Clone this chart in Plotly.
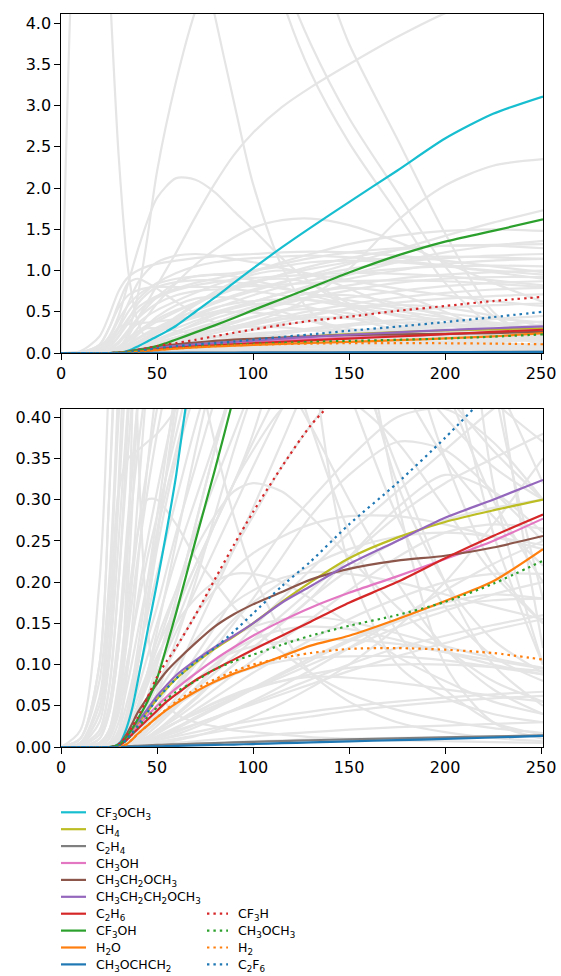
import plotly.graph_objects as go

# ---------------- highlighted species ----------------
HX = [0, 20, 25, 28, 31, 34, 37, 40, 45, 50, 55, 60, 70, 80, 90, 100, 115, 130, 150, 175, 200, 225, 251]

CF3OCH3 = [0, 0, 0, 0.001, 0.006, 0.022, 0.046, 0.08, 0.14, 0.199, 0.262, 0.33, 0.5, 0.67, 0.85, 1.025, 1.28, 1.52, 1.83, 2.21, 2.6, 2.9, 3.11]
CH4 = [0, 0, 0, 0.0005, 0.003, 0.01, 0.019, 0.028, 0.043, 0.058, 0.071, 0.083, 0.102, 0.119, 0.134, 0.15, 0.176, 0.2, 0.229, 0.254, 0.273, 0.287, 0.30]
C2H4 = [0, 0, 0, 0, 0.0003, 0.0008, 0.0012, 0.0015, 0.002, 0.0025, 0.003, 0.0033, 0.004, 0.0048, 0.0055, 0.0062, 0.0072, 0.0082, 0.0093, 0.0105, 0.0117, 0.0128, 0.014]
CH3OH = [0, 0, 0, 0.0003, 0.003, 0.009, 0.017, 0.025, 0.038, 0.05, 0.061, 0.071, 0.089, 0.106, 0.121, 0.135, 0.153, 0.169, 0.187, 0.207, 0.228, 0.25, 0.277]
CH3CH2OCH3 = [0, 0, 0, 0.0005, 0.005, 0.015, 0.028, 0.042, 0.06, 0.077, 0.092, 0.104, 0.126, 0.146, 0.161, 0.173, 0.188, 0.203, 0.216, 0.226, 0.232, 0.242, 0.256]
CH3CH2CH2OCH3 = [0, 0, 0, 0.0005, 0.004, 0.012, 0.022, 0.031, 0.046, 0.062, 0.075, 0.087, 0.105, 0.121, 0.135, 0.15, 0.175, 0.195, 0.222, 0.25, 0.278, 0.3, 0.324]
C2H6 = [0, 0, 0, 0.0003, 0.003, 0.008, 0.015, 0.022, 0.033, 0.044, 0.055, 0.064, 0.081, 0.094, 0.106, 0.118, 0.135, 0.152, 0.175, 0.2, 0.229, 0.256, 0.282]
CF3OH = [0, 0, 0, 0.001, 0.004, 0.012, 0.022, 0.034, 0.055, 0.083, 0.122, 0.163, 0.25, 0.335, 0.425, 0.52, 0.655, 0.79, 0.975, 1.18, 1.35, 1.48, 1.62]
H2O = [0, 0, 0, 0, 0.0005, 0.003, 0.009, 0.016, 0.026, 0.036, 0.045, 0.053, 0.067, 0.079, 0.089, 0.097, 0.11, 0.123, 0.135, 0.155, 0.177, 0.201, 0.24]
CH3OCHCH2 = [0, 0, 0, 0, 0, 0.0001, 0.0002, 0.0003, 0.0005, 0.0008, 0.001, 0.0013, 0.0019, 0.0025, 0.003, 0.0036, 0.0046, 0.0056, 0.0068, 0.0083, 0.0098, 0.0115, 0.0135]

CF3H = [0, 0, 0, 0.001, 0.005, 0.013, 0.024, 0.036, 0.06, 0.085, 0.104, 0.121, 0.16, 0.203, 0.245, 0.285, 0.34, 0.39, 0.44, 0.51, 0.57, 0.63, 0.68]
CH3OCH3 = [0, 0, 0, 0.0003, 0.003, 0.008, 0.016, 0.024, 0.036, 0.048, 0.058, 0.067, 0.08, 0.094, 0.104, 0.112, 0.124, 0.135, 0.147, 0.16, 0.176, 0.198, 0.226]
H2 = [0, 0, 0, 0, 0.0005, 0.003, 0.009, 0.016, 0.026, 0.036, 0.046, 0.055, 0.07, 0.082, 0.092, 0.1, 0.108, 0.114, 0.119, 0.12, 0.118, 0.114, 0.106]
C2F6 = [0, 0, 0, 0.0005, 0.003, 0.009, 0.017, 0.026, 0.042, 0.058, 0.071, 0.083, 0.103, 0.12, 0.14, 0.162, 0.195, 0.225, 0.27, 0.32, 0.375, 0.435, 0.50]

SOLID_NAMES = ["CF<sub>3</sub>OCH<sub>3</sub>", "CH<sub>4</sub>", "C<sub>2</sub>H<sub>4</sub>", "CH<sub>3</sub>OH",
               "CH<sub>3</sub>CH<sub>2</sub>OCH<sub>3</sub>", "CH<sub>3</sub>CH<sub>2</sub>CH<sub>2</sub>OCH<sub>3</sub>",
               "C<sub>2</sub>H<sub>6</sub>", "CF<sub>3</sub>OH", "H<sub>2</sub>O", "CH<sub>3</sub>OCHCH<sub>2</sub>"]
SOLID_VALUES = [CF3OCH3, CH4, C2H4, CH3OH, CH3CH2OCH3, CH3CH2CH2OCH3, C2H6, CF3OH, H2O, CH3OCHCH2]
SOLID_COLORS = ["#17becf", "#bcbd22", "#7f7f7f", "#e377c2", "#8c564b", "#9467bd", "#d62728", "#2ca02c", "#ff7f0e", "#1f77b4"]

DOT_NAMES = ["CF<sub>3</sub>H", "CH<sub>3</sub>OCH<sub>3</sub>", "H<sub>2</sub>", "C<sub>2</sub>F<sub>6</sub>"]
DOT_VALUES = [CF3H, CH3OCH3, H2, C2F6]
DOT_COLORS = ["#d62728", "#2ca02c", "#ff7f0e", "#1f77b4"]

# ---------------- background species (grey) ----------------
GX = [0, 10, 20, 25, 30, 35, 40, 45, 50, 60, 70, 80, 90, 100, 115, 130, 150, 175, 200, 225, 251]

GREY_LARGE = [
    [0, 7.0, 9.0, 9.5, 9.5, 9.2, 8.8, 8.2, 7.5, 6.3, 5.2, 4.1, 3.05, 2.05, 1.05, 0.5, 0.22, 0.1, 0.06, 0.04, 0.03],
    [14, 10, 6.8, 4.6, 2.4, 1.0, 0.38, 0.15, 0.07, 0.04, 0.03, 0.025, 0.02, 0.018, 0.015, 0.012, 0.01, 0.008, 0.007, 0.006, 0.005],
    [0, 0, 0, 0.01, 0.05, 0.25, 0.7, 1.4, 2.2, 3.3, 4.15, 4.75, 5.1, 5.35, 5.45, 4.95, 3.75, 2.6, 1.45, 0.5, 0.12],
    [9, 9, 9, 9, 9, 9, 9, 9, 9, 8.5, 8, 7.3, 6.5, 5.6, 4.3, 3.4, 2.55, 1.7, 0.85, 0.32, 0.1],
    [8, 8, 8, 8, 8, 8, 8, 8, 8, 7.8, 7.4, 6.9, 6.3, 5.7, 4.6, 3.75, 2.85, 1.95, 1.05, 0.45, 0.18],
    [0, 0, 0, 0.01, 0.05, 0.2, 0.42, 0.62, 0.82, 1.22, 1.65, 2.05, 2.4, 2.67, 2.98, 3.22, 3.5, 3.83, 4.12, 4.35, 4.5],
    [0, 0.01, 0.08, 0.2, 0.45, 0.85, 1.25, 1.6, 1.88, 2.12, 2.1, 1.95, 1.72, 1.5, 1.15, 0.85, 0.55, 0.32, 0.2, 0.13, 0.09],
    [0, 0, 0, 0.01, 0.05, 0.15, 0.3, 0.45, 0.6, 0.85, 1.07, 1.25, 1.4, 1.52, 1.61, 1.63, 1.55, 1.35, 1.1, 0.85, 0.62],
    [0, 0, 0, 0, 0.01, 0.03, 0.06, 0.09, 0.12, 0.17, 0.22, 0.27, 0.32, 0.38, 0.5, 0.68, 1.02, 1.6, 2.03, 2.27, 2.35],
    [0, 0, 0, 0, 0.01, 0.04, 0.1, 0.18, 0.26, 0.4, 0.52, 0.62, 0.7, 0.77, 0.86, 0.95, 1.08, 1.25, 1.42, 1.58, 1.73],
]

GREY_MEDIUM = [
    [0, 0.005, 0.06, 0.18, 0.4, 0.58, 0.7, 0.78, 0.84, 0.9, 0.93, 0.95, 0.97, 1.0, 1.05, 1.1, 1.12, 1.1, 1.05, 1.0, 0.95],
    [0, 0.002, 0.03, 0.1, 0.25, 0.42, 0.55, 0.63, 0.69, 0.78, 0.85, 0.9, 0.95, 1.0, 1.08, 1.15, 1.22, 1.27, 1.3, 1.31, 1.32],
    [0, 0, 0.01, 0.04, 0.12, 0.25, 0.36, 0.45, 0.52, 0.63, 0.73, 0.82, 0.9, 0.98, 1.1, 1.2, 1.32, 1.42, 1.48, 1.5, 1.48],
    [0, 0, 0.005, 0.02, 0.07, 0.16, 0.26, 0.34, 0.41, 0.52, 0.61, 0.69, 0.77, 0.84, 0.95, 1.05, 1.15, 1.25, 1.3, 1.3, 1.27],
    [0, 0, 0, 0.01, 0.04, 0.1, 0.18, 0.25, 0.31, 0.42, 0.51, 0.6, 0.68, 0.75, 0.85, 0.93, 1.02, 1.1, 1.15, 1.18, 1.2],
    [0, 0.001, 0.02, 0.07, 0.2, 0.36, 0.5, 0.6, 0.67, 0.76, 0.82, 0.86, 0.89, 0.91, 0.93, 0.95, 0.97, 0.96, 0.93, 0.88, 0.82],
    [0, 0, 0, 0.005, 0.03, 0.08, 0.14, 0.2, 0.26, 0.36, 0.45, 0.54, 0.62, 0.7, 0.8, 0.88, 0.96, 1.02, 1.05, 1.06, 1.05],
    [0, 0, 0, 0.003, 0.02, 0.06, 0.11, 0.16, 0.21, 0.3, 0.39, 0.47, 0.55, 0.62, 0.72, 0.8, 0.9, 1.0, 1.08, 1.12, 1.14],
    [0, 0, 0, 0.002, 0.015, 0.045, 0.085, 0.13, 0.17, 0.26, 0.34, 0.42, 0.49, 0.56, 0.65, 0.73, 0.82, 0.9, 0.95, 0.98, 1.0],
    [0, 0, 0, 0.002, 0.01, 0.035, 0.07, 0.11, 0.15, 0.23, 0.3, 0.37, 0.44, 0.5, 0.59, 0.67, 0.76, 0.85, 0.9, 0.92, 0.92],
    [0, 0, 0, 0, 0.008, 0.025, 0.05, 0.085, 0.12, 0.19, 0.26, 0.32, 0.38, 0.44, 0.52, 0.59, 0.67, 0.75, 0.81, 0.85, 0.87],
    [0, 0, 0, 0, 0.005, 0.02, 0.045, 0.075, 0.105, 0.165, 0.22, 0.27, 0.32, 0.37, 0.44, 0.51, 0.59, 0.67, 0.73, 0.77, 0.79],
    [0, 0, 0, 0, 0.004, 0.015, 0.035, 0.06, 0.09, 0.14, 0.19, 0.24, 0.29, 0.34, 0.41, 0.47, 0.54, 0.61, 0.66, 0.69, 0.71],
    [0, 0, 0, 0, 0.003, 0.012, 0.03, 0.05, 0.075, 0.12, 0.16, 0.2, 0.24, 0.28, 0.34, 0.39, 0.45, 0.51, 0.55, 0.58, 0.6],
    [0, 0.005, 0.05, 0.15, 0.31, 0.35, 0.36, 0.37, 0.38, 0.41, 0.45, 0.5, 0.56, 0.62, 0.72, 0.82, 0.95, 1.1, 1.22, 1.3, 1.36],
    [0, 0.01, 0.1, 0.3, 0.55, 0.7, 0.76, 0.79, 0.8, 0.8, 0.8, 0.8, 0.8, 0.81, 0.83, 0.85, 0.87, 0.88, 0.87, 0.84, 0.8],
    [0, 0, 0.005, 0.02, 0.06, 0.14, 0.23, 0.31, 0.38, 0.5, 0.61, 0.71, 0.79, 0.86, 0.95, 1.02, 1.1, 1.15, 1.17, 1.16, 1.14],
    [0, 0, 0.01, 0.04, 0.12, 0.27, 0.42, 0.56, 0.68, 0.85, 0.93, 0.95, 0.93, 0.88, 0.8, 0.7, 0.58, 0.45, 0.35, 0.28, 0.22],
    [0, 0, 0.003, 0.015, 0.05, 0.11, 0.17, 0.23, 0.28, 0.38, 0.47, 0.55, 0.6, 0.63, 0.65, 0.64, 0.59, 0.51, 0.43, 0.36, 0.3],
    [0, 0.02, 0.2, 0.45, 0.75, 0.92, 1.0, 1.05, 1.08, 1.12, 1.15, 1.17, 1.19, 1.2, 1.22, 1.23, 1.22, 1.18, 1.12, 1.05, 0.98],
    [0, 0.003, 0.04, 0.12, 0.3, 0.5, 0.65, 0.76, 0.85, 0.97, 1.05, 1.1, 1.13, 1.15, 1.17, 1.18, 1.16, 1.12, 1.06, 0.98, 0.9],
    [0, 0.003, 0.04, 0.12, 0.32, 0.6, 0.85, 1.0, 1.1, 1.18, 1.2, 1.18, 1.14, 1.1, 1.03, 0.96, 0.88, 0.78, 0.7, 0.63, 0.57],
    [0, 0.002, 0.02, 0.07, 0.2, 0.4, 0.6, 0.72, 0.8, 0.86, 0.88, 0.88, 0.86, 0.83, 0.78, 0.72, 0.64, 0.55, 0.48, 0.42, 0.37],
    [0, 0.001, 0.015, 0.05, 0.14, 0.28, 0.42, 0.52, 0.6, 0.7, 0.75, 0.77, 0.77, 0.75, 0.7, 0.64, 0.56, 0.47, 0.4, 0.34, 0.3],
]

GREY_SMALL = [
    [0, 0, 0, 0, 0, 0.005, 0.015, 0.03, 0.045, 0.07, 0.09, 0.105, 0.115, 0.122, 0.128, 0.13, 0.13, 0.125, 0.115, 0.105, 0.095],
    [0, 0, 0, 0, 0, 0.003, 0.01, 0.02, 0.03, 0.05, 0.065, 0.078, 0.088, 0.096, 0.104, 0.108, 0.11, 0.11, 0.105, 0.097, 0.088],
    [0, 0, 0, 0, 0, 0.002, 0.006, 0.012, 0.018, 0.03, 0.042, 0.053, 0.062, 0.07, 0.08, 0.088, 0.096, 0.1, 0.1, 0.097, 0.092],
    [0, 0, 0, 0, 0, 0.003, 0.01, 0.02, 0.03, 0.05, 0.07, 0.09, 0.11, 0.13, 0.16, 0.19, 0.23, 0.28, 0.32, 0.35, 0.38],
    [0, 0, 0, 0, 0, 0.002, 0.006, 0.012, 0.018, 0.03, 0.04, 0.05, 0.06, 0.07, 0.085, 0.1, 0.12, 0.145, 0.165, 0.185, 0.2],
    [0, 0, 0, 0, 0, 0.001, 0.004, 0.008, 0.012, 0.02, 0.028, 0.036, 0.044, 0.052, 0.064, 0.076, 0.092, 0.11, 0.126, 0.142, 0.155],
    [0, 0, 0, 0, 0, 0.001, 0.002, 0.004, 0.006, 0.01, 0.014, 0.018, 0.022, 0.026, 0.032, 0.037, 0.044, 0.05, 0.055, 0.059, 0.062],
    [0, 0, 0, 0, 0, 0, 0.001, 0.002, 0.003, 0.005, 0.007, 0.009, 0.011, 0.013, 0.016, 0.018, 0.021, 0.024, 0.026, 0.028, 0.03],
    [0, 0, 0, 0, 0.01, 0.04, 0.1, 0.17, 0.24, 0.35, 0.43, 0.48, 0.5, 0.49, 0.45, 0.39, 0.3, 0.2, 0.12, 0.07, 0.04],
    [0, 0, 0, 0, 0.02, 0.1, 0.22, 0.34, 0.44, 0.58, 0.66, 0.68, 0.66, 0.6, 0.5, 0.39, 0.26, 0.14, 0.07, 0.03, 0.015],
    [0, 0, 0, 0, 0, 0.01, 0.03, 0.06, 0.09, 0.15, 0.21, 0.27, 0.32, 0.36, 0.41, 0.43, 0.42, 0.37, 0.29, 0.21, 0.15],
    [0, 0, 0, 0, 0.005, 0.02, 0.05, 0.09, 0.13, 0.19, 0.24, 0.28, 0.31, 0.32, 0.31, 0.28, 0.23, 0.17, 0.12, 0.08, 0.055],
    [0, 0, 0, 0, 0.005, 0.02, 0.05, 0.08, 0.11, 0.15, 0.18, 0.2, 0.21, 0.21, 0.2, 0.18, 0.15, 0.11, 0.08, 0.055, 0.04],
    [0, 0, 0, 0, 0, 0.005, 0.015, 0.03, 0.05, 0.09, 0.14, 0.19, 0.24, 0.29, 0.37, 0.45, 0.53, 0.58, 0.55, 0.45, 0.32],
    [0, 0, 0, 0, 0, 0.01, 0.03, 0.06, 0.1, 0.18, 0.27, 0.36, 0.45, 0.53, 0.64, 0.73, 0.79, 0.72, 0.5, 0.26, 0.1],
    [0, 0, 0, 0, 0, 0, 0.002, 0.005, 0.008, 0.015, 0.024, 0.034, 0.045, 0.056, 0.074, 0.093, 0.12, 0.155, 0.19, 0.222, 0.25],
    [0, 0, 0, 0, 0, 0, 0.001, 0.002, 0.004, 0.008, 0.013, 0.02, 0.028, 0.037, 0.053, 0.072, 0.1, 0.145, 0.2, 0.27, 0.35],
    [0, 0, 0, 0, 0, 0.002, 0.006, 0.012, 0.02, 0.035, 0.052, 0.07, 0.088, 0.105, 0.13, 0.155, 0.19, 0.23, 0.26, 0.27, 0.265],
    [0, 0, 0.005, 0.02, 0.08, 0.18, 0.26, 0.3, 0.3, 0.27, 0.23, 0.2, 0.17, 0.145, 0.115, 0.09, 0.065, 0.045, 0.032, 0.023, 0.017],
    [0, 0.01, 0.1, 0.3, 0.6, 0.85, 0.9, 0.85, 0.78, 0.62, 0.48, 0.37, 0.28, 0.21, 0.14, 0.09, 0.055, 0.03, 0.018, 0.011, 0.007],
    [0, 0, 0, 0, 0, 0.001, 0.004, 0.008, 0.013, 0.024, 0.036, 0.048, 0.06, 0.072, 0.09, 0.108, 0.13, 0.155, 0.175, 0.185, 0.18],
    [0, 0, 0, 0, 0, 0.005, 0.02, 0.04, 0.065, 0.13, 0.2, 0.28, 0.36, 0.43, 0.51, 0.53, 0.48, 0.34, 0.2, 0.1, 0.05],
    [0, 0, 0, 0, 0.01, 0.05, 0.12, 0.2, 0.28, 0.44, 0.6, 0.74, 0.86, 0.95, 1.0, 0.95, 0.78, 0.54, 0.35, 0.22, 0.15],
    [0, 0, 0, 0, 0, 0.003, 0.01, 0.02, 0.032, 0.055, 0.08, 0.1, 0.118, 0.13, 0.142, 0.146, 0.143, 0.13, 0.115, 0.1, 0.088],
    [0, 0, 0, 0, 0, 0.002, 0.006, 0.012, 0.02, 0.04, 0.06, 0.08, 0.1, 0.12, 0.15, 0.18, 0.215, 0.25, 0.275, 0.29, 0.3],
    [0, 0, 0, 0, 0.002, 0.01, 0.025, 0.045, 0.065, 0.1, 0.13, 0.155, 0.175, 0.19, 0.205, 0.212, 0.21, 0.2, 0.185, 0.17, 0.155],
    [0, 0, 0, 0, 0, 0.0005, 0.001, 0.0015, 0.002, 0.003, 0.004, 0.005, 0.006, 0.007, 0.008, 0.009, 0.01, 0.011, 0.012, 0.013, 0.014],
    [0, 0, 0, 0, 0, 0.001, 0.003, 0.005, 0.008, 0.013, 0.018, 0.023, 0.028, 0.032, 0.038, 0.043, 0.049, 0.055, 0.06, 0.064, 0.067],
    [0, 0, 0, 0, 0, 0.002, 0.006, 0.012, 0.018, 0.03, 0.042, 0.054, 0.064, 0.072, 0.08, 0.085, 0.084, 0.078, 0.07, 0.062, 0.055],
    [0, 0, 0, 0, 0, 0.002, 0.008, 0.016, 0.026, 0.048, 0.072, 0.096, 0.12, 0.145, 0.18, 0.215, 0.26, 0.31, 0.36, 0.41, 0.45],
    [0, 0, 0, 0, 0.005, 0.02, 0.05, 0.09, 0.14, 0.25, 0.36, 0.46, 0.54, 0.59, 0.6, 0.55, 0.43, 0.28, 0.17, 0.11, 0.08],
    [0, 0, 0, 0, 0, 0.003, 0.01, 0.02, 0.032, 0.06, 0.09, 0.12, 0.15, 0.18, 0.23, 0.28, 0.33, 0.37, 0.36, 0.31, 0.25],
    [0, 0, 0, 0, 0, 0.002, 0.006, 0.012, 0.02, 0.038, 0.058, 0.08, 0.1, 0.12, 0.15, 0.18, 0.23, 0.29, 0.33, 0.31, 0.26],
    [0, 0, 0, 0, 0, 0.004, 0.012, 0.024, 0.04, 0.075, 0.11, 0.145, 0.18, 0.21, 0.26, 0.3, 0.35, 0.4, 0.41, 0.37, 0.3],
    [0, 0, 0, 0, 0.01, 0.04, 0.1, 0.17, 0.25, 0.42, 0.58, 0.71, 0.81, 0.87, 0.9, 0.84, 0.6, 0.3, 0.1, 0.03, 0.01],
    [0, 0, 0, 0, 0, 0.01, 0.03, 0.06, 0.1, 0.18, 0.27, 0.36, 0.44, 0.52, 0.61, 0.68, 0.7, 0.6, 0.44, 0.3, 0.2],
    [0, 0, 0, 0, 0, 0.002, 0.005, 0.01, 0.016, 0.03, 0.045, 0.06, 0.075, 0.09, 0.11, 0.13, 0.155, 0.18, 0.2, 0.21, 0.21],
    [0, 0, 0, 0, 0, 0.004, 0.012, 0.025, 0.04, 0.07, 0.1, 0.13, 0.155, 0.175, 0.2, 0.22, 0.24, 0.255, 0.26, 0.255, 0.245],
    [0, 0, 0, 0, 0.003, 0.012, 0.03, 0.05, 0.075, 0.12, 0.16, 0.19, 0.215, 0.235, 0.255, 0.27, 0.28, 0.28, 0.27, 0.255, 0.24],
    [0, 0, 0, 0, 0, 0.001, 0.003, 0.006, 0.01, 0.018, 0.027, 0.036, 0.045, 0.054, 0.068, 0.082, 0.1, 0.12, 0.135, 0.148, 0.16],
    [0, 0, 0, 0, 0.001, 0.006, 0.016, 0.03, 0.045, 0.075, 0.1, 0.12, 0.135, 0.146, 0.155, 0.158, 0.152, 0.138, 0.122, 0.108, 0.096],
    [0, 0, 0, 0, 0, 0.001, 0.003, 0.007, 0.012, 0.022, 0.034, 0.046, 0.058, 0.07, 0.088, 0.105, 0.128, 0.152, 0.17, 0.178, 0.18],
]

X_TICKS = [0, 50, 100, 150, 200, 250]
Y_TICKS_TOP = [0.0, 0.5, 1.0, 1.5, 2.0, 2.5, 3.0, 3.5, 4.0]
Y_TICKS_BOTTOM = [0.00, 0.05, 0.10, 0.15, 0.20, 0.25, 0.30, 0.35, 0.40]

W, H = 561, 976
GREY = "#e5e5e5"
LW = 2.2
DOT = "2.4px,4px"
FONT = "DejaVu Sans"

fig = go.Figure()

panels = [("x", "y"), ("x2", "y2")]
for xa, ya in panels:
    for rows in (GREY_LARGE, GREY_MEDIUM, GREY_SMALL):
        for vals in rows:
            fig.add_trace(go.Scatter(x=GX, y=vals, xaxis=xa, yaxis=ya, mode="lines",
                                     line=dict(color=GREY, width=LW, shape="spline", smoothing=0.8),
                                     showlegend=False, hoverinfo="skip"))

for xa, ya in panels:
    for name, vals, col in zip(SOLID_NAMES, SOLID_VALUES, SOLID_COLORS):
        fig.add_trace(go.Scatter(x=HX, y=vals, xaxis=xa, yaxis=ya, mode="lines", name=name,
                                 line=dict(color=col, width=LW, shape="spline", smoothing=0.7),
                                 showlegend=False))
    for name, vals, col in zip(DOT_NAMES, DOT_VALUES, DOT_COLORS):
        fig.add_trace(go.Scatter(x=HX, y=vals, xaxis=xa, yaxis=ya, mode="lines", name=name,
                                 line=dict(color=col, width=LW, dash=DOT, shape="spline", smoothing=0.7),
                                 showlegend=False))

# key: two columns, the dotted column aligned with the last four solid rows
ROW0, ROW_STEP = 812.3, 16.9
KEY_COLS = [(61, 86, 94), (207, 228, 236)]
shapes, annotations = [], []


def key_entry(col, row, name, color, dash):
    x0, x1, xt = KEY_COLS[col]
    yp = (H - (ROW0 + ROW_STEP * row)) / H
    shapes.append(dict(type="line", xref="paper", yref="paper", x0=x0 / W, x1=x1 / W, y0=yp, y1=yp,
                       line=dict(color=color, width=LW, dash=dash)))
    annotations.append(dict(xref="paper", yref="paper", x=xt / W, y=yp, xanchor="left", yanchor="middle",
                            text=name, showarrow=False, yshift=-1,
                            font=dict(family=FONT, size=12.5, color="black")))


for i, (name, col) in enumerate(zip(SOLID_NAMES, SOLID_COLORS)):
    key_entry(0, i, name, col, "solid")
offset = len(SOLID_NAMES) - len(DOT_NAMES)
for i, (name, col) in enumerate(zip(DOT_NAMES, DOT_COLORS)):
    key_entry(1, offset + i, name, col, DOT)

axis_style = dict(showline=True, linecolor="black", linewidth=1.3, mirror=True,
                  ticks="outside", ticklen=5.5, tickwidth=1.3, tickcolor="black",
                  showgrid=False, zeroline=False, automargin=False,
                  tickfont=dict(family=FONT, size=16, color="black"))

XDOM = [61 / W, 543 / W]
fig.update_layout(
    template="none",
    width=W, height=H,
    margin=dict(l=0, r=0, t=0, b=0, pad=0),
    paper_bgcolor="white", plot_bgcolor="white",
    font=dict(family=FONT, color="black"),
    showlegend=False,
    shapes=shapes, annotations=annotations,
    xaxis=dict(domain=XDOM, range=[0, 251], tickvals=X_TICKS, anchor="y", **axis_style),
    yaxis=dict(domain=[(H - 353) / H, (H - 14) / H], range=[0, 4.11],
               tickvals=Y_TICKS_TOP, tickformat=".1f", anchor="x", **axis_style),
    xaxis2=dict(domain=XDOM, range=[0, 251], tickvals=X_TICKS, anchor="y2", **axis_style),
    yaxis2=dict(domain=[(H - 747) / H, (H - 409) / H], range=[0, 0.41],
                tickvals=Y_TICKS_BOTTOM, tickformat=".2f", anchor="x2", **axis_style),
)

fig.write_html("out.html",
               post_script="document.documentElement.style.margin='0';document.body.style.margin='0';"
                           "document.documentElement.style.overflow='hidden';document.body.style.overflow='hidden';")
